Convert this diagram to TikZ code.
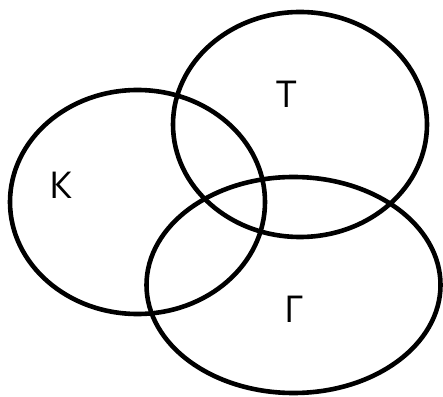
\documentclass[tikz,border=0pt]{standalone}
\usepackage{fontspec}
\setmainfont{Open Sans}
\begin{document}
\begin{tikzpicture}[x=1pt,y=1pt,
  set/.style={line width=4.6pt,draw=black},
  lbl/.style={font=\fontsize{37}{40}\selectfont,inner sep=0pt}]
\useasboundingbox (0,0) rectangle (443,396);
\draw[set] (137.5,194) ellipse [x radius=127.5, y radius=112];
\draw[set] (300,271.5) ellipse [x radius=127, y radius=112.5];
\draw[set] (293.5,111) ellipse [x radius=147, y radius=108];
\node[lbl] (k) at (61,211) {К};
\node[lbl] (t) at (287,302) {Т};
\node[lbl] (g) at (294,87) {Г};
\end{tikzpicture}
\end{document}
